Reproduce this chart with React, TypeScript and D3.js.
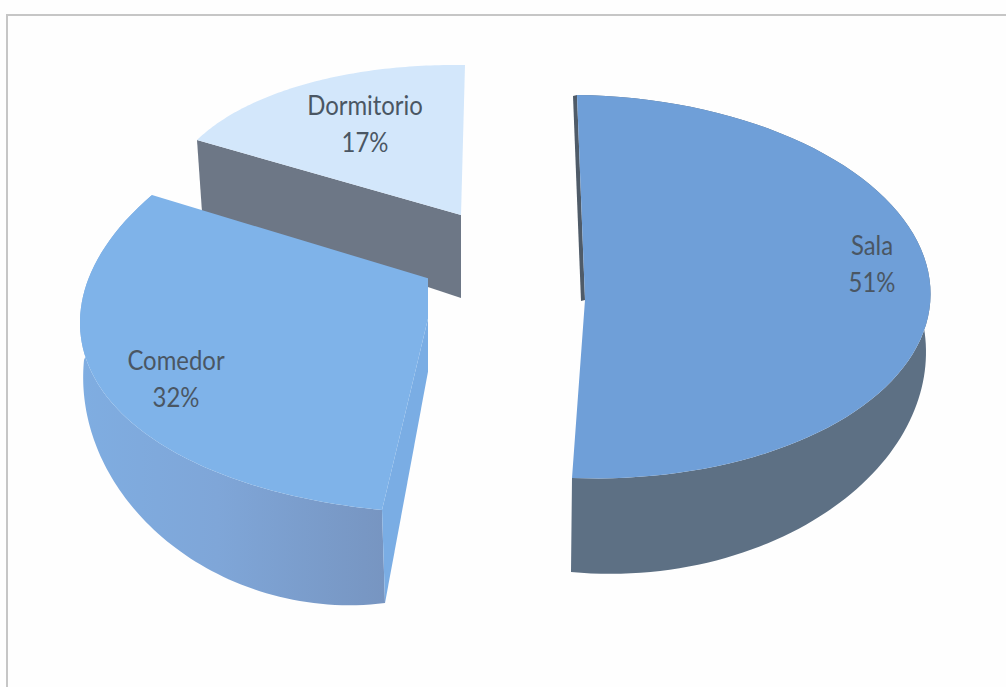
import React from "react";
import * as d3 from "d3";

// Chart content
const categories = ["Sala", "Comedor", "Dormitorio"];
const shares = [51, 32, 17];

type Pt = [number, number];
type Anchor = [number, Pt]; // angle on the pie in degrees, position on the page
type Rim = Anchor[];

// Layout of the exploded 3D wedges: each rim is a unit circle projected
// through four anchors, so perspective is kept per wedge.
const WIDTH = 1006;
const HEIGHT = 687;

const centers: Pt[] = [
  [585, 300],
  [437, 281],
  [461, 215],
];
const topRims: Rim[] = [
  [[0, [577, 95]], [42, [817, 150]], [138, [817, 433]], [183.6, [572, 478]]],
  [[183.6, [382, 510]], [221, [200, 465]], [270, [80, 320]], [298.8, [152, 195]]],
  [[298.8, [197, 140]], [318.8, [260, 100]], [347, [393, 68]], [360, [465, 65]]],
];
const bottomRims: Rim[] = [
  [[75, [925, 335]], [105, [905, 430]], [140, [800, 528]], [183.6, [571, 572]]],
  [[183.6, [385, 603]], [221, [193, 560]], [255, [100, 455]], [285, [84, 360]]],
];
const salaLowFromDeg = 45;

// Straight cut walls
const salaCutShift: Pt = [-4, 1];
const comedorCutBottom: Pt = [437, 323];
const comedorClipX = 428;
const dormCut: { rim: Pt; center: Pt } = { rim: [202, 212], center: [461, 298] };

const topColors = ["#6f9fd8", "#7fb3e9", "#d3e7fb"];
const salaWallColor = "#5d7084";
const salaCutColor = "#4f5b68";
const dormWallColor = "#6d7786";
const comedorCutColor = "#7aade4";
const labelColor = "#4a5663";

const labelLayout: { x: number; y: number }[] = [
  { x: 872, y: 255 },
  { x: 176, y: 370 },
  { x: 365, y: 115 },
];
const labelGap = 37;
const labelScaleX = 0.92;

const toRad = (deg: number) => (deg * Math.PI) / 180;

function unit(a: number): Pt {
  return [Math.sin(a), Math.cos(a)];
}

// Solves the projective map taking (X, Y) on the unit circle to the anchors.
function homography(rim: Rim) {
  const A: number[][] = [];
  rim.forEach(([deg, [u, v]]) => {
    const [x, y] = unit(toRad(deg));
    A.push([x, y, 1, 0, 0, 0, -u * x, -u * y, u]);
    A.push([0, 0, 0, x, y, 1, -v * x, -v * y, v]);
  });
  for (let i = 0; i < 8; i++) {
    let p = i;
    for (let r = i + 1; r < 8; r++) if (Math.abs(A[r][i]) > Math.abs(A[p][i])) p = r;
    [A[i], A[p]] = [A[p], A[i]];
    for (let r = 0; r < 8; r++) {
      if (r === i) continue;
      const f = A[r][i] / A[i][i];
      for (let k = i; k < 9; k++) A[r][k] -= f * A[i][k];
    }
  }
  const h = A.map((row, i) => row[8] / row[i]);
  return (a: number): Pt => {
    const [x, y] = unit(a);
    const w = h[6] * x + h[7] * y + 1;
    return [(h[0] * x + h[1] * y + h[2]) / w, (h[3] * x + h[4] * y + h[5]) / w];
  };
}

const pieAngles = d3.pie<number>().sort(null)(shares);

function rimPoints(rim: Rim, a0: number, a1: number): Pt[] {
  const project = homography(rim);
  const angle = d3.scaleLinear().domain([0, 80]).range([a0, a1]);
  return d3.range(81).map((i) => project(angle(i)));
}

const outline = d3.line<Pt>().curve(d3.curveLinear);
const closed = (pts: Pt[]) => outline(pts) + "Z";

export default function App() {
  const tops = pieAngles.map((d, i) => rimPoints(topRims[i], d.startAngle, d.endAngle));
  const faces = tops.map((pts, i) => closed([centers[i], ...pts]));

  const salaLow = rimPoints(bottomRims[0], toRad(salaLowFromDeg), pieAngles[0].endAngle);
  const comedorLow = rimPoints(
    bottomRims[1],
    pieAngles[1].startAngle,
    toRad(bottomRims[1][3][0])
  );
  const salaWall = closed([...tops[0], ...salaLow.slice().reverse()]);
  const comedorWall = closed([...tops[1], ...comedorLow.slice().reverse()]);

  const salaStart = tops[0][0];
  const comedorStart = tops[1][0];
  const dormStart = tops[2][0];

  return (
    <svg
      width={WIDTH}
      height={HEIGHT}
      style={{ position: "absolute", left: 0, top: 0, background: "#fefefe" }}
      fontFamily="Lato, sans-serif"
    >
      <defs>
        <linearGradient id="comedorWall" x1="0" x2="1" y1="0" y2="0">
          <stop offset="0" stopColor="#7fade1" />
          <stop offset="0.45" stopColor="#7fa6d8" />
          <stop offset="1" stopColor="#7795c1" />
        </linearGradient>
        <clipPath id="comedorCut">
          <rect x={0} y={0} width={comedorClipX} height={HEIGHT} />
        </clipPath>
      </defs>

      {/* frame */}
      <path d={`M7,${HEIGHT}V15H${WIDTH}`} fill="none" stroke="#c6c6c6" strokeWidth={2} />

      {/* Dormitorio */}
      <path d={closed([centers[2], dormStart, dormCut.rim, dormCut.center])} fill={dormWallColor} />
      <path d={faces[2]} fill={topColors[2]} />

      {/* Comedor */}
      <g clipPath="url(#comedorCut)">
        <path d={comedorWall} fill="url(#comedorWall)" />
        <path
          d={closed([centers[1], comedorStart, comedorLow[0], comedorCutBottom])}
          fill={comedorCutColor}
        />
        <path d={faces[1]} fill={topColors[1]} />
      </g>

      {/* Sala */}
      <path d={salaWall} fill={salaWallColor} />
      <path
        d={closed([
          centers[0],
          salaStart,
          [salaStart[0] + salaCutShift[0], salaStart[1] + salaCutShift[1]],
          [centers[0][0] + salaCutShift[0], centers[0][1] + salaCutShift[1]],
        ])}
        fill={salaCutColor}
      />
      <path d={faces[0]} fill={topColors[0]} />

      {/* labels */}
      {categories.map((name, i) => {
        const { x, y } = labelLayout[i];
        return (
          <text
            key={name}
            textAnchor="middle"
            fontSize={26}
            fill={labelColor}
            transform={`translate(${x},${y}) scale(${labelScaleX},1)`}
          >
            <tspan x={0} y={0}>{name}</tspan>
            <tspan x={0} y={labelGap}>{shares[i]}%</tspan>
          </text>
        );
      })}
    </svg>
  );
}
